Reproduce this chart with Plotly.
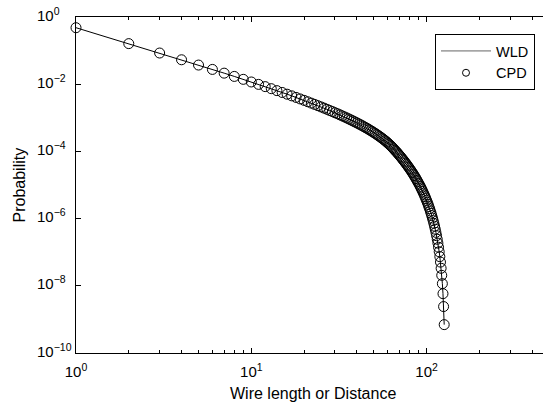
import math
import plotly.graph_objects as go

# Wire length / distance (integer grid distances)
lengths = list(range(1, 127))

# Probability (same curve for WLD line and CPD circles)
probability = [
    0.480, 0.1613, 0.08474, 0.05336, 0.03713, 0.02754, 0.02132, 0.01704, 0.01396, 0.01165,
    9.875e-3, 8.479e-3, 7.354e-3, 6.437e-3, 5.678e-3, 5.043e-3, 4.504e-3, 4.044e-3, 3.648e-3, 3.303e-3,
    3.001e-3, 2.736e-3, 2.502e-3, 2.294e-3, 2.108e-3, 1.942e-3, 1.791e-3, 1.656e-3, 1.533e-3, 1.421e-3,
    1.320e-3, 1.227e-3, 1.142e-3, 1.063e-3, 9.915e-4, 9.249e-4, 8.635e-4, 8.067e-4, 7.542e-4, 7.055e-4,
    6.599e-4, 6.175e-4, 5.779e-4, 5.409e-4, 5.065e-4, 4.742e-4, 4.438e-4, 4.154e-4, 3.886e-4, 3.635e-4,
    3.398e-4, 3.175e-4, 2.966e-4, 2.768e-4, 2.580e-4, 2.403e-4, 2.237e-4, 2.078e-4, 1.928e-4, 1.787e-4,
    1.652e-4, 1.525e-4, 1.404e-4, 1.289e-4, 1.182e-4, 1.083e-4, 9.932e-5, 9.101e-5, 8.337e-5, 7.635e-5,
    6.990e-5, 6.397e-5, 5.851e-5, 5.349e-5, 4.887e-5, 4.461e-5, 4.071e-5, 3.712e-5, 3.382e-5, 3.079e-5,
    2.801e-5, 2.544e-5, 2.310e-5, 2.094e-5, 1.897e-5, 1.715e-5, 1.549e-5, 1.397e-5, 1.258e-5, 1.131e-5,
    1.015e-5, 9.094e-6, 8.130e-6, 7.253e-6, 6.455e-6, 5.730e-6, 5.074e-6, 4.480e-6, 3.943e-6, 3.459e-6,
    3.024e-6, 2.634e-6, 2.284e-6, 1.971e-6, 1.693e-6, 1.446e-6, 1.228e-6, 1.036e-6, 8.679e-7, 7.210e-7,
    5.934e-7, 4.835e-7, 3.896e-7, 3.096e-7, 2.424e-7, 1.865e-7, 1.405e-7, 1.033e-7, 7.37e-8, 5.07e-8,
    3.32e-8, 2.05e-8, 1.16e-8, 5.83e-9, 2.41e-9, 6.99e-10,
]
wld = probability
cpd = probability

x_major = [1, 10, 100]
x_major_text = ["10<sup>0</sup>", "10<sup>1</sup>", "10<sup>2</sup>"]
x_minor = [2, 3, 4, 5, 6, 7, 8, 9, 20, 30, 40, 50, 60, 70, 80, 90, 200, 300, 400]
y_major = [1, 1e-2, 1e-4, 1e-6, 1e-8, 1e-10]
y_major_text = ["10<sup>0</sup>", "10<sup>−2</sup>", "10<sup>−4</sup>",
                "10<sup>−6</sup>", "10<sup>−8</sup>", "10<sup>−10</sup>"]

FONT = "Liberation Sans, Arial, Helvetica, sans-serif"
W, H = 543, 404
ML, MT, MB, MR = 76, 17, 51, 0
PW, PH = W - ML - MR, H - MT - MB

fig = go.Figure()
fig.add_trace(go.Scatter(x=lengths, y=wld, mode="lines", name="WLD", showlegend=False,
                         line=dict(color="black", width=1)))
fig.add_trace(go.Scatter(x=lengths, y=cpd, mode="markers", name="CPD", showlegend=False,
                         cliponaxis=False,
                         marker=dict(symbol="circle-open", size=10, color="black",
                                     line=dict(width=1, color="black"))))
# legend entries (legend glyphs as in the reference)
fig.add_trace(go.Scatter(x=[None], y=[None], mode="lines", name="WLD",
                         line=dict(color="#666666", width=1)))
fig.add_trace(go.Scatter(x=[None], y=[None], mode="markers", name="CPD",
                         marker=dict(symbol="circle-open", size=7, color="black",
                                     line=dict(width=1, color="black"))))

fig.update_layout(
    width=W, height=H,
    margin=dict(l=ML, r=MR, t=MT, b=MB, pad=0),
    paper_bgcolor="white", plot_bgcolor="white",
    font=dict(family=FONT, size=15, color="black"),
    showlegend=True,
    legend=dict(x=(535 - ML) / PW, y=(H - MB - 34) / PH,
                xanchor="right", yanchor="top",
                bordercolor="black", borderwidth=1, bgcolor="white",
                font=dict(family=FONT, size=14.5), tracegroupgap=0,
                itemwidth=50),
)

fig.update_xaxes(
    type="log", range=[0, 2.664],
    showgrid=False, zeroline=False,
    showline=True, linecolor="black", linewidth=1.3, mirror="ticks",
    ticks="inside", ticklen=5, tickwidth=1, tickcolor="black",
    tickmode="array", tickvals=x_major, ticktext=x_major_text,
    tickfont=dict(family=FONT, size=15), ticklabelstandoff=5,
    minor=dict(tickmode="array", tickvals=x_minor, ticks="inside", ticklen=3,
               tickwidth=1, tickcolor="black", showgrid=False),
)
fig.update_yaxes(
    type="log", range=[-10, 0],
    showgrid=False, zeroline=False,
    showline=True, linecolor="black", linewidth=1.3, mirror=False,
    ticks="inside", ticklen=5, tickwidth=1, tickcolor="black",
    tickmode="array", tickvals=y_major, ticktext=[""] * len(y_major),
)

# y tick labels, left aligned like the reference (log axis -> log10 coords)
for v, t in zip(y_major, y_major_text):
    fig.add_annotation(x=0, y=math.log10(v), xref="paper", yref="y", text=t, showarrow=False,
                       xanchor="left", yanchor="middle", xshift=35 - ML, yshift=3,
                       font=dict(family=FONT, size=15))

# axis titles
fig.add_annotation(x=0.5, y=0, xref="paper", yref="paper", yanchor="middle",
                   text="Wire length or Distance", showarrow=False,
                   xshift=(312.5 - (ML + PW / 2)), yshift=-(393 - (H - MB)),
                   font=dict(family=FONT, size=16))
fig.add_annotation(x=0, y=0.5, xref="paper", yref="paper", xanchor="center",
                   yanchor="middle", text="Probability", showarrow=False, textangle=-90,
                   xshift=18.5 - ML, font=dict(family=FONT, size=16))

fig.write_html("out.html", config={"displayModeBar": False},
               post_script="document.body.style.margin='0';document.body.style.overflow='hidden';")
